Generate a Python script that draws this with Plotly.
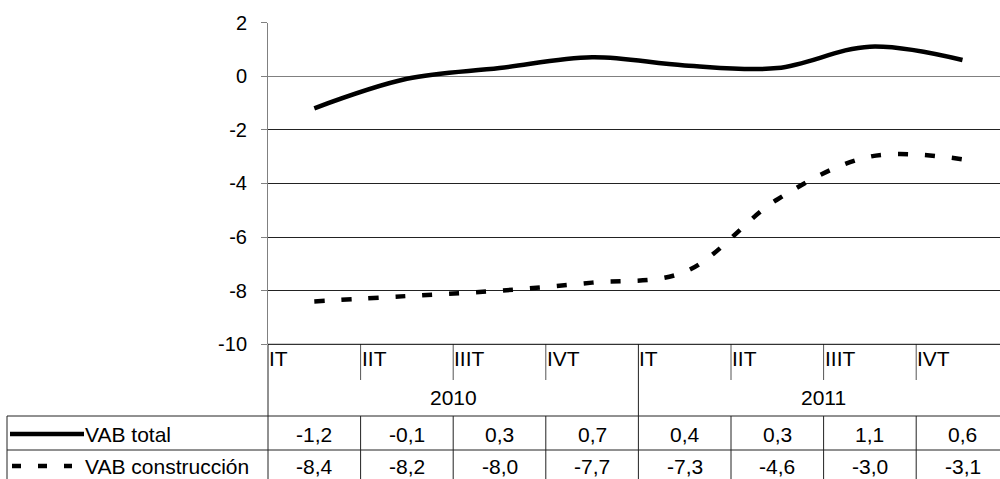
import plotly.graph_objects as go

# ---- data ----
quarters = ["IT", "IIT", "IIIT", "IVT", "IT", "IIT", "IIIT", "IVT"]
years = ["2010", "2011"]
quarters_per_year = 4
vab_total = [-1.2, -0.1, 0.3, 0.7, 0.4, 0.3, 1.1, 0.6]
vab_construccion = [-8.4, -8.2, -8.0, -7.7, -7.3, -4.6, -3.0, -3.1]
series_names = ["VAB total", "VAB construcción"]
y_ticks = [2, 0, -2, -4, -6, -8, -10]

W, H = 1000, 479
FONT = "Liberation Sans, Arial, sans-serif"
TXT = 21

# layout geometry (pixels)
X_LEFT = 268
CAT_W = 92.6
Y_TOP, Y_BOT = 22.5, 344.3
x_range = [-0.5, -0.5 + (W - X_LEFT) / CAT_W]


def py(p):
    return 1 - p / H


def px(p):
    return p / W


def cat_paper(v):
    # convert category coordinate to paper x
    return px(X_LEFT + (v - x_range[0]) * CAT_W)


def fmt(v):
    return f"{v:.1f}".replace(".", ",")


xs = list(range(len(quarters)))

fig = go.Figure()
fig.add_trace(go.Scatter(x=xs, y=vab_total, mode="lines", name=series_names[0],
                         line=dict(color="black", width=4.5, shape="spline", smoothing=1),
                         showlegend=False, hoverinfo="skip"))
fig.add_trace(go.Scatter(x=xs, y=vab_construccion, mode="lines", name=series_names[1],
                         line=dict(color="black", width=4.5, shape="spline", smoothing=1,
                                   dash="10px,17px"),
                         showlegend=False, hoverinfo="skip"))

shapes = []
annotations = []
line_dark = dict(color="#222", width=1)

# category separators (short ticks) and year separators (long)
n = len(quarters)
ROW1_TOP, ROW2_TOP, TABLE_BOTTOM = 416, 450, 479
for i in range(n + 1):
    xp = cat_paper(i - 0.5)
    if xp > 1.0001:
        continue
    if i % quarters_per_year == 0:
        shapes.append(dict(type="line", xref="paper", yref="paper", x0=xp, x1=xp,
                           y0=py(Y_BOT), y1=py(TABLE_BOTTOM + 5), line=line_dark))
    else:
        shapes.append(dict(type="line", xref="paper", yref="paper", x0=xp, x1=xp,
                           y0=py(Y_BOT), y1=py(380), line=dict(color="#555", width=1)))
        shapes.append(dict(type="line", xref="paper", yref="paper", x0=xp, x1=xp,
                           y0=py(ROW1_TOP), y1=py(TABLE_BOTTOM + 5), line=line_dark))

# table horizontal lines and left border
for yy in (ROW1_TOP, ROW2_TOP):
    shapes.append(dict(type="line", xref="paper", yref="paper", x0=px(7), x1=1,
                       y0=py(yy), y1=py(yy), line=line_dark))
shapes.append(dict(type="line", xref="paper", yref="paper", x0=px(7), x1=px(7),
                   y0=py(ROW1_TOP), y1=py(TABLE_BOTTOM + 5), line=line_dark))
# bottom axis line
shapes.append(dict(type="line", xref="paper", yref="paper", x0=px(X_LEFT), x1=1,
                   y0=py(Y_BOT), y1=py(Y_BOT), line=dict(color="black", width=1)))

# legend keys
row1_c = (ROW1_TOP + ROW2_TOP) / 2 + 1
row2_c = ROW2_TOP + 16
shapes.append(dict(type="line", xref="paper", yref="paper", x0=px(10), x1=px(84),
                   y0=py(row1_c), y1=py(row1_c), line=dict(color="black", width=4.5)))
shapes.append(dict(type="line", xref="paper", yref="paper", x0=px(12), x1=px(72),
                   y0=py(row2_c), y1=py(row2_c),
                   line=dict(color="black", width=4.5, dash="9px,17px")))

# quarter labels
for i, q in enumerate(quarters):
    annotations.append(dict(x=i - 0.5, xref="x", y=py(358), yref="paper", text=q,
                            showarrow=False, xanchor="left", yanchor="middle", xshift=-1,
                            font=dict(family=FONT, size=TXT, color="black")))
# year labels
for k, yr in enumerate(years):
    cx = k * quarters_per_year + (quarters_per_year - 1) / 2
    annotations.append(dict(x=cx, xref="x", y=py(397), yref="paper", text=yr,
                            showarrow=False, xanchor="center", yanchor="middle",
                            font=dict(family=FONT, size=TXT, color="black")))
# table values
for row_vals, yc in ((vab_total, row1_c), (vab_construccion, row2_c)):
    for i, v in enumerate(row_vals):
        annotations.append(dict(x=i, xref="x", y=py(yc), yref="paper", text=fmt(v),
                                showarrow=False, xanchor="center", yanchor="middle",
                                font=dict(family=FONT, size=TXT, color="black")))
# row names
for name, yc in zip(series_names, (row1_c, row2_c)):
    annotations.append(dict(x=px(83), xref="paper", y=py(yc), yref="paper", text=name,
                            showarrow=False, xanchor="left", yanchor="middle",
                            font=dict(family=FONT, size=TXT, color="black")))

fig.update_layout(
    width=W, height=H,
    margin=dict(l=0, r=0, t=0, b=0, autoexpand=False),
    paper_bgcolor="white", plot_bgcolor="white",
    showlegend=False,
    xaxis=dict(domain=[px(X_LEFT), 1], range=x_range, showgrid=False, zeroline=False,
               showticklabels=False, ticks="", showline=False, fixedrange=True,
               automargin=False),
    yaxis=dict(domain=[py(Y_BOT), py(Y_TOP)], range=[-10, 2], tickvals=y_ticks,
               ticktext=[str(t) for t in y_ticks],
               showgrid=True, gridcolor="#222", gridwidth=1,
               zeroline=True, zerolinecolor="#808080", zerolinewidth=1,
               showline=True, linecolor="#808080", linewidth=1,
               ticks="outside", ticklen=6, tickcolor="#808080",
               ticklabelstandoff=10, automargin=False,
               tickfont=dict(family=FONT, size=20, color="black"), fixedrange=True),
    shapes=shapes, annotations=annotations,
)

fig.write_html(
    "out.html",
    config={"displayModeBar": False, "staticPlot": True},
    post_script="document.body.style.margin='0';document.body.style.overflow='hidden';",
)
